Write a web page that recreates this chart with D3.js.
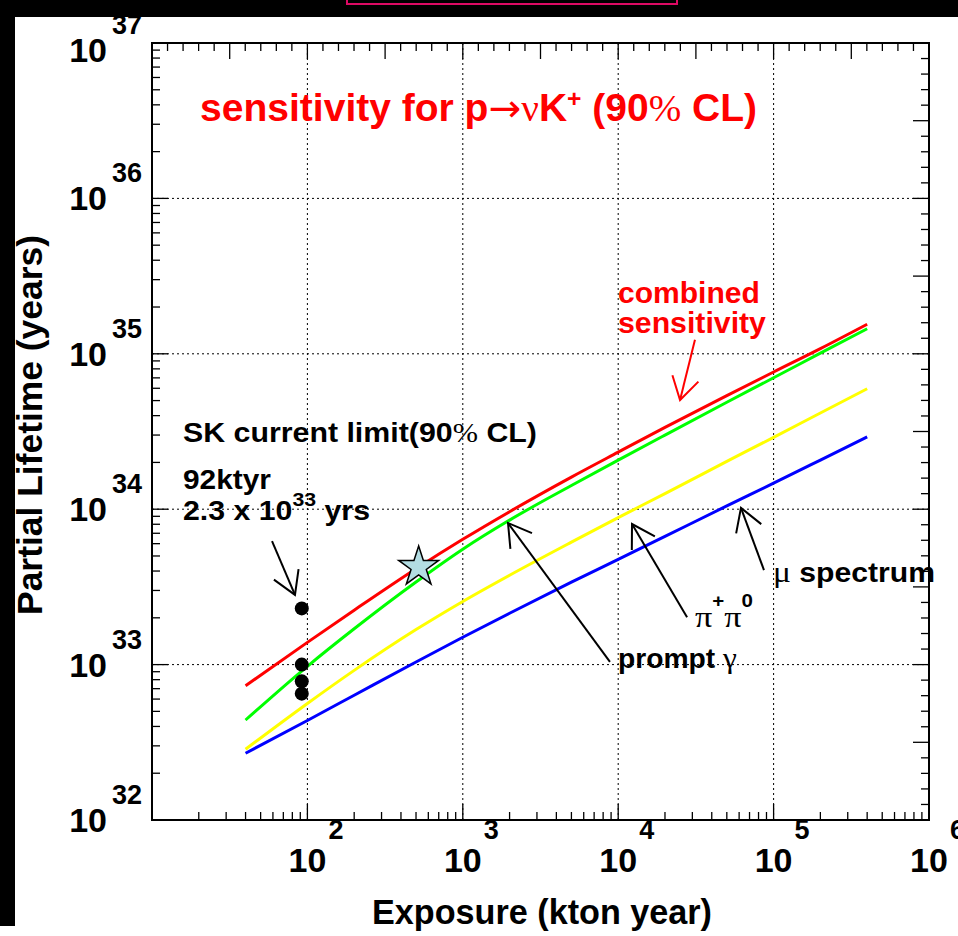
<!DOCTYPE html>
<html>
<head>
<meta charset="utf-8">
<script src="https://cdn.jsdelivr.net/npm/d3@7"></script>
<style>
  html, body { margin: 0; padding: 0; background: #fff; }
  svg { display: block; }
  text { white-space: pre; }
</style>
</head>
<body>
<svg id="chart" width="958" height="936"></svg>
<script>
// Exposure grid (kton year) shared by all sensitivity curves
const exposure = [40, 100, 200, 500, 1000, 2000, 5000, 1e4, 2e4, 5e4, 1e5, 2e5, 4e5];

// 90% CL partial lifetime sensitivity (years) for p -> nu K+
const combined    = [7.31e32, 1.39e33, 2.24e33, 4.14e33, 6.40e33, 9.64e33, 1.61e34, 2.33e34, 3.36e34, 5.38e34, 7.64e34, 1.08e35, 1.55e35];
const promptGamma = [4.40e32, 9.75e32, 1.70e33, 3.40e33, 5.53e33, 8.51e33, 1.42e34, 2.07e34, 3.00e34, 4.88e34, 7.01e34, 1.01e35, 1.45e35];
const piPlusPi0   = [2.85e32, 5.62e32, 9.18e32, 1.68e33, 2.55e33, 3.76e33, 6.14e33, 8.83e33, 1.26e34, 2.03e34, 2.90e34, 4.16e34, 5.96e34];
const muSpectrum  = [2.69e32, 4.37e32, 6.35e32, 1.04e33, 1.50e33, 2.14e33, 3.39e33, 4.75e33, 6.68e33, 1.05e34, 1.47e34, 2.07e34, 2.92e34];

// Super-Kamiokande limits at 92 kton year
const skExposure = [92, 92, 92, 92];
const skLifetime = [2.3e33, 1.0e33, 7.8e32, 6.5e32];

// Highlighted point on the combined curve
const starExposure = [520];
const starLifetime = [4.25e33];

// Axis decades
const xDecades = [1, 2, 3, 4, 5, 6];
const yDecades = [32, 33, 34, 35, 36, 37];

const SANS = "'Liberation Sans', Arial, Helvetica, sans-serif";
const SERIF = "'Liberation Serif', 'Times New Roman', serif";
const SYMBOL = "'DejaVu Sans', sans-serif";

const svg = d3.select("#chart");
const W = 958, H = 936;
const frame = { left: 152, right: 929, top: 43, bottom: 820 };

const x = d3.scaleLog().domain([1e1, 1e6]).range([frame.left, frame.right]);
const y = d3.scaleLog().domain([1e32, 1e37]).range([frame.bottom, frame.top]);

svg.append("rect").attr("width", W).attr("height", H).attr("fill", "#fff");

// ---- gridlines (decades) ----
const grid = svg.append("g").attr("stroke", "#000").attr("stroke-width", 1).attr("stroke-dasharray", "2,3");
xDecades.slice(1, -1).forEach(e => {
  const px = x(Math.pow(10, e));
  grid.append("line").attr("x1", px).attr("x2", px).attr("y1", frame.top).attr("y2", frame.bottom);
});
yDecades.slice(1, -1).forEach(e => {
  const py = y(Math.pow(10, e));
  grid.append("line").attr("y1", py).attr("y2", py).attr("x1", frame.left).attr("x2", frame.right);
});

// ---- ticks ----
const ticks = svg.append("g").attr("stroke", "#000").attr("stroke-width", 1.3);
const MAJ = 16, MIN = 8;
// bottom & left: logarithmic ticks
for (let e = 1; e < 6; e++) for (let k = 1; k <= 9; k++) {
  const px = x(k * Math.pow(10, e));
  const len = k === 1 ? MAJ : MIN;
  ticks.append("line").attr("x1", px).attr("x2", px).attr("y1", frame.bottom).attr("y2", frame.bottom - len);
}
for (let e = 32; e < 37; e++) for (let k = 1; k <= 9; k++) {
  const py = y(k * Math.pow(10, e));
  const len = k === 1 ? MAJ : MIN;
  ticks.append("line").attr("y1", py).attr("y2", py).attr("x1", frame.left).attr("x2", frame.left + len);
}
// top & right: uniform ticks every 0.1 decade
for (let i = 0; i <= 50; i++) {
  const px = x(Math.pow(10, 1 + i / 10));
  const len = i % 5 === 0 ? MAJ : MIN;
  ticks.append("line").attr("x1", px).attr("x2", px).attr("y1", frame.top).attr("y2", frame.top + len);
  const py = y(Math.pow(10, 32 + i / 10));
  ticks.append("line").attr("y1", py).attr("y2", py).attr("x1", frame.right).attr("x2", frame.right - len);
}

// ---- frame ----
svg.append("rect")
  .attr("x", frame.left).attr("y", frame.top)
  .attr("width", frame.right - frame.left).attr("height", frame.bottom - frame.top)
  .attr("fill", "none").attr("stroke", "#000").attr("stroke-width", 2);

// ---- tick labels ----
const lab = svg.append("g").attr("font-family", SANS).attr("font-weight", "bold").attr("fill", "#000");
xDecades.slice(1).forEach(e => {
  const px = x(Math.pow(10, e));
  lab.append("text").attr("x", px).attr("y", 872).attr("text-anchor", "middle").attr("font-size", 34).text("10");
  lab.append("text").attr("x", px + 21).attr("y", 839).attr("font-size", 27).text(String(e));
});
yDecades.forEach(e => {
  // keep the top label clear of the page border
  const py = Math.max(y(Math.pow(10, e)), frame.top + 7);
  lab.append("text").attr("x", 107).attr("y", py + 12).attr("text-anchor", "end").attr("font-size", 34).text("10");
  lab.append("text").attr("x", 112).attr("y", py - 16).attr("font-size", 27).text(String(e));
});

// ---- helper: rich text built from runs, stretched to a given width ----
function richText(parent, ax, ay, runs, color, width) {
  const g = parent.append("g");
  let cx = 0;
  runs.forEach(r => {
    const t = g.append("text")
      .attr("x", cx).attr("y", r.dy || 0)
      .attr("font-family", r.font || SANS)
      .attr("font-weight", r.font ? "normal" : "bold")
      .attr("font-size", r.size)
      .attr("fill", color)
      .text(r.t);
    cx += t.node().getComputedTextLength();
  });
  const sx = width ? width / cx : 1;
  g.attr("transform", `translate(${ax},${ay}) scale(${sx},1)`);
  return g;
}

// ---- axis titles ----
svg.append("text").attr("font-family", SANS).attr("font-weight", "bold").attr("font-size", 35)
  .attr("text-anchor", "middle").attr("x", 542).attr("y", 924)
  .attr("textLength", 340).attr("lengthAdjust", "spacingAndGlyphs")
  .text("Exposure (kton year)");
svg.append("text").attr("font-family", SANS).attr("font-weight", "bold").attr("font-size", 35)
  .attr("text-anchor", "middle").attr("transform", "translate(42,425) rotate(-90)")
  .attr("textLength", 380).attr("lengthAdjust", "spacingAndGlyphs")
  .text("Partial Lifetime (years)");

// ---- curves ----
const series = [
  { name: "muSpectrum", values: muSpectrum, color: "#0000ff" },
  { name: "piPlusPi0", values: piPlusPi0, color: "#ffff00" },
  { name: "promptGamma", values: promptGamma, color: "#00ff00" },
  { name: "combined", values: combined, color: "#ff0000" }
];
const line = d3.line().x(d => x(d[0])).y(d => y(d[1])).curve(d3.curveMonotoneX);
series.forEach(s => {
  svg.append("path")
    .datum(exposure.map((e, i) => [e, s.values[i]]))
    .attr("d", line).attr("fill", "none")
    .attr("stroke", s.color).attr("stroke-width", 3);
});

// ---- SK points ----
svg.append("g").selectAll("circle")
  .data(skExposure.map((e, i) => [e, skLifetime[i]]))
  .join("circle")
  .attr("cx", d => x(d[0])).attr("cy", d => y(d[1])).attr("r", 7).attr("fill", "#000");

// ---- star ----
const starR = 21;
svg.append("g").selectAll("path")
  .data(starExposure.map((e, i) => [e, starLifetime[i]]))
  .join("path")
  .attr("d", d3.symbol(d3.symbolStar, starR * starR / 0.8908130915292852)())
  .attr("transform", d => `translate(${x(d[0])},${y(d[1])})`)
  .attr("fill", "#b3dde3").attr("stroke", "#000").attr("stroke-width", 1.5);

// ---- annotation arrows (tail -> tip, in data coordinates) ----
const arrows = [
  { from: [59.2, 6.24e33], to: [83.2, 2.81e33], color: "#000" },
  { from: [31190, 1.23e35], to: [25000, 5.04e34], color: "#ff0000" },
  { from: [8850, 1.04e33], to: [1954, 8.15e33], color: "#000" },
  { from: [27740, 2.02e33], to: [12270, 8.03e33], color: "#000" },
  { from: [86700, 4.06e33], to: [61660, 1.02e34], color: "#000" }
];
arrows.forEach(a => {
  const x1 = x(a.from[0]), y1 = y(a.from[1]), x2 = x(a.to[0]), y2 = y(a.to[1]);
  const ang = Math.atan2(y1 - y2, x1 - x2);
  const L = 26, half = 31 * Math.PI / 180;
  const g = svg.append("g").attr("stroke", a.color).attr("stroke-width", 2).attr("fill", "none");
  g.append("line").attr("x1", x1).attr("y1", y1).attr("x2", x2).attr("y2", y2);
  g.append("polyline").attr("points", [
    [x2 + L * Math.cos(ang - half), y2 + L * Math.sin(ang - half)],
    [x2, y2],
    [x2 + L * Math.cos(ang + half), y2 + L * Math.sin(ang + half)]
  ].map(p => p.join(",")).join(" "));
});

// ---- annotation texts (anchored at baseline-left, data coordinates) ----
const notes = svg.append("g");
richText(notes, x(20.4), y(3.15e36), [
  { t: "sensitivity for p", size: 38 },
  { t: "\u2192", size: 38, font: SYMBOL },
  { t: "\u03bd", size: 38, font: SERIF },
  { t: "K", size: 38 },
  { t: "+", size: 24, dy: -14 },
  { t: " (90", size: 38 },
  { t: "%", size: 38, font: SERIF },
  { t: " CL)", size: 38 }
], "#ff0000", 557);

richText(notes, x(15.83), y(2.71e34), [
  { t: "SK current limit(90", size: 27 },
  { t: "%", size: 27, font: SERIF },
  { t: " CL)", size: 27 }
], "#000", 354);
richText(notes, x(15.83), y(1.35e34), [{ t: "92ktyr", size: 27 }], "#000", 88);
richText(notes, x(15.83), y(8.52e33), [
  { t: "2.3 x 10", size: 27 },
  { t: "33", size: 19, dy: -14 },
  { t: " yrs", size: 27 }
], "#000", 187);

richText(notes, x(9970), y(2.12e35), [{ t: "combined", size: 29 }], "#ff0000", 142);
richText(notes, x(9970), y(1.36e35), [{ t: "sensitivity", size: 29 }], "#ff0000", 148);

richText(notes, x(99100), y(3.40e33), [
  { t: "\u03bc", size: 30, font: SERIF },
  { t: " spectrum", size: 27 }
], "#000", 162);
richText(notes, x(31190), y(1.75e33), [
  { t: "\u03c0", size: 30, font: SERIF },
  { t: "+", size: 18, dy: -20 },
  { t: "\u03c0", size: 30, font: SERIF },
  { t: "0", size: 18, dy: -20 }
], "#000", 58);
richText(notes, x(9970), y(9.5e32), [
  { t: "prompt", size: 27 },
  { t: " \u03b3", size: 30, font: SERIF }
], "#000", 119);

// ---- surrounding page border ----
svg.append("rect").attr("x", 0).attr("y", 0).attr("width", W).attr("height", 17).attr("fill", "#000");
svg.append("rect").attr("x", 0).attr("y", 0).attr("width", 15).attr("height", 926).attr("fill", "#000");
svg.append("rect").attr("x", 347).attr("y", -10).attr("width", 330).attr("height", 14)
  .attr("fill", "none").attr("stroke", "#dc0a64").attr("stroke-width", 2);
</script>
</body>
</html>
